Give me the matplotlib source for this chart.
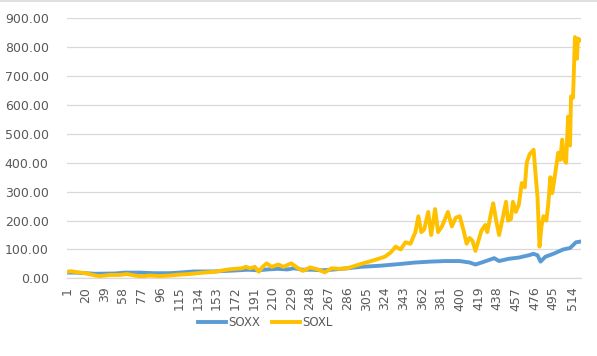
import matplotlib.pyplot as plt
from matplotlib.ticker import FixedLocator, FuncFormatter
from matplotlib.lines import Line2D

plt.rcParams['font.family'] = ['DejaVu Sans']

# trading-day index and price
soxx_day = [1, 10, 30, 50, 60, 75, 90, 105, 115, 130, 150, 170, 185, 195, 205,
            215, 225, 232, 240, 250, 260, 270, 286, 300, 320, 340, 355, 370,
            385, 400, 410, 416, 425, 435, 440, 450, 460, 470, 475, 479, 482,
            487, 495, 505, 512, 518, 522]
soxx_val = [20, 20, 16, 17, 20, 20, 18, 18, 20, 24, 24, 27, 30, 28, 31,
            33, 31, 35, 30, 30, 28, 30, 35, 40, 44, 50, 55, 58,
            60, 60, 55, 48, 58, 70, 60, 68, 72, 80, 85, 80, 58,
            75, 85, 100, 105, 125, 127]

soxl_day = [1, 5, 10, 20, 30, 35, 45, 55, 62, 70, 77, 85, 95, 106, 115, 125,
            131, 140, 152, 160, 165, 172, 179, 183, 187, 192, 196, 200, 204,
            209, 216, 221, 229, 236, 241, 248, 256, 263, 270, 278, 286, 295,
            305, 315, 324, 330, 335, 340, 345, 350, 355, 358, 361, 364, 368,
            371, 375, 378, 382, 388, 392, 396, 400, 404, 407, 410, 413, 416,
            419, 422, 426, 428, 432, 434, 437, 440, 444, 447, 449, 452, 454,
            457, 460, 463, 466, 468, 471, 475, 477, 479, 481, 483, 485, 488,
            490, 492, 494, 497, 500, 502, 504, 506, 508, 510, 512, 513, 515,
            517, 519, 520, 522]
soxl_val = [22, 25, 22, 18, 10, 8, 12, 12, 15, 10, 7, 10, 8, 10, 13, 15,
            17, 20, 23, 28, 31, 33, 35, 40, 35, 40, 23, 40, 52,
            40, 48, 40, 52, 35, 26, 38, 31, 21, 35, 33, 35, 45,
            55, 65, 75, 90, 110, 100, 125, 120, 160, 215, 160, 170, 230,
            150, 240, 160, 180, 230, 180, 210, 215, 165, 120, 140, 130, 95,
            130, 165, 185, 160, 230, 260, 200, 150, 215, 265, 200, 205, 265,
            230, 255, 330, 315, 400, 430, 445, 360, 280, 110, 180, 215, 200,
            260, 350, 295, 365, 435, 410, 480, 410, 400, 560, 460, 630, 625,
            835, 760, 830, 825]

tick_days = list(range(1, 515, 19))

fig = plt.figure(figsize=(5.97, 3.56), dpi=100)
ax = fig.add_axes([0.1117, 0.218, 0.8613, 0.7306])

ax.plot(soxx_day, soxx_val, color='#5B9BD5', lw=2.8, label='SOXX',
        solid_joinstyle='round', zorder=3)
ax.plot(soxl_day, soxl_val, color='#FFC000', lw=2.8, label='SOXL',
        solid_joinstyle='round', zorder=4)

ax.set_xlim(1, 523)
ax.set_ylim(0, 900)
ax.yaxis.set_major_locator(FixedLocator(range(0, 901, 100)))
ax.yaxis.set_major_formatter(FuncFormatter(lambda v, p: f'{v:.2f}'))
ax.set_xticks(tick_days)
ax.set_xticklabels([str(d) for d in tick_days], rotation=90)

ax.grid(axis='y', color='#D9D9D9', lw=0.9)
ax.set_axisbelow(True)
for side in ['top', 'right', 'left']:
    ax.spines[side].set_visible(False)
ax.spines['bottom'].set_color('#D9D9D9')
ax.spines['bottom'].set_linewidth(0.9)
ax.tick_params(axis='both', length=0, colors='#595959', labelsize=9)
ax.tick_params(axis='y', pad=13)
ax.tick_params(axis='x', pad=6)

# chart area border, only its top edge shows
fig.add_artist(Line2D([0, 1], [0.997, 0.997], transform=fig.transFigure,
                      color='#D9D9D9', lw=1.2))

fig.legend(loc='center', bbox_to_anchor=(0.444, 0.095), ncol=2, frameon=False,
           fontsize=8.5, handlelength=2.4, handletextpad=0.15, columnspacing=1.0,
           labelcolor='#595959')

fig.savefig('out.png', dpi=100, facecolor='white')
